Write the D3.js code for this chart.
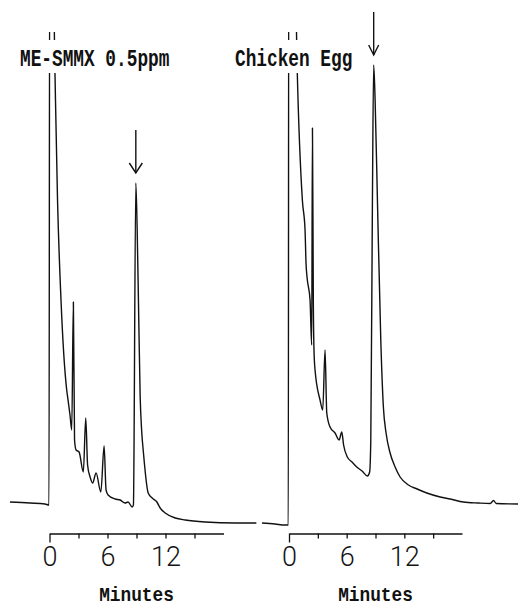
<!DOCTYPE html>
<html>
<head>
<meta charset="utf-8">
<script src="https://cdn.jsdelivr.net/npm/d3@7"></script>
<style>
  body { margin: 0; background: #fff; }
  svg { display: block; }
  .tick text { opacity: 0.99; }
</style>
</head>
<body>
<div id="chart"></div>
<script>
// retention time (min) and detector response
const standardTime = [-4.09, -2.02, -0.47, -0.05, 0.02, 0.30, 0.57, 0.83, 1.19, 1.78, 1.92, 2.12, 2.30, 2.47, 2.59, 2.75, 3.06, 3.50, 3.75, 3.94, 4.20, 4.46, 4.82, 5.31, 5.65, 5.85, 6.06, 6.79, 7.31, 7.82, 8.13, 8.55, 8.68, 8.93, 9.07, 9.20, 9.38, 9.53, 9.72, 10.21, 10.62, 11.11, 11.45, 11.97, 13.01, 14.04, 16.11, 19.22, 21.4]
const standardSignal = [5.6, 5.4, 5.2, 5.0, 120, 120, 91, 66, 46, 28, 26, 23, 20, 45.6, 18, 16, 15.6, 11.6, 22.4, 13, 10.6, 9.4, 11.4, 7.6, 16.8, 8, 7, 6.2, 6, 5.4, 5.6, 4.6, 5, 69.4, 60, 46, 26.6, 20, 15.4, 7.4, 6.4, 5.6, 4.4, 3.4, 2.4, 2.0, 1.6, 1.4, 1.4]
const eggTime = [-2.81, -1.46, -0.42, -0.07, -0.03, 0.55, 0.86, 1.39, 1.67, 1.77, 1.875, 2.19, 2.36, 2.44, 2.53, 2.60, 2.71, 3.23, 3.51, 3.75, 3.93, 4.27, 4.79, 5.21, 5.49, 5.68, 6.07, 6.56, 7.05, 7.60, 8.16, 8.39, 8.51, 8.68, 8.81, 8.96, 9.20, 9.55, 9.82, 10.10, 10.52, 11.04, 11.56, 12.43, 13.33, 14.34, 15.73, 16.77, 18.16, 19.69, 20.94, 21.28, 21.56, 23.85]
const eggSignal = [1.4, 1.2, 1.0, 1.0, 120, 120, 91.6, 66, 60, 53.4, 50.6, 46, 37, 80.4, 46, 36, 32, 26, 24, 36, 23.4, 20.6, 19.4, 18, 19.6, 17, 14.6, 13.6, 12.6, 11.8, 10.8, 11.6, 18, 66, 93, 86, 66, 38, 24.6, 19.4, 15.4, 12.6, 10.6, 9, 8.2, 7.4, 6.6, 6.2, 5.6, 5.4, 5.3, 5.9, 5.3, 5.2]

const panelTitles = ['ME-SMMX 0.5ppm', 'Chicken Egg']
const tickValues = [0, 3, 6, 9, 12, 15]
const tickLabels = [0, 6, 12]
const targetTime = [8.93, 8.81]   // SMMX peak, marked with an arrow
const axisLabel = 'Minutes'

let width = 518
let height = 608

let svg = d3.select('#chart').append('svg')
    .attr('width', width)
    .attr('height', height)

let y = d3.scaleLinear().domain([0, 100]).range([530, 30])
let axisY = 533.5
let monoFont = '"Liberation Mono", "DejaVu Sans Mono", monospace'

let panels = [
    { time: standardTime, signal: standardSignal, range: [49.5, 223.5], title: panelTitles[0], titleX: 20, arrowW: 13 },
    { time: eggTime, signal: eggSignal, range: [289, 462], title: panelTitles[1], titleX: 235, arrowW: 10 }
]

// pen goes off the chart above this line
svg.append('clipPath').attr('id', 'paper')
    .append('rect')
    .attr('x', 0).attr('y', 32)
    .attr('width', width).attr('height', height)

// monospace label stretched upward like the plotter lettering
function plotterText(x, base, str, stretch, anchor) {
    return svg.append('text')
        .attr('transform', 'translate(' + x + ',' + base + ') scale(1,' + stretch + ')')
        .attr('text-anchor', anchor)
        .attr('font-family', monoFont)
        .attr('font-weight', 'bold')
        .attr('font-size', 17.8)
        .attr('fill', '#111')
        .text(str)
}

panels.forEach(function (p, i) {
    let x = d3.scaleLinear().domain([0, 18]).range(p.range)
    let data = p.time.map(function (t, k) { return { t: t, v: p.signal[k] } })

    let line = d3.line()
        .x(function (d) { return x(d.t) })
        .y(function (d) { return y(d.v) })
        .curve(d3.curveMonotoneX)

    svg.append('path')
        .datum(data)
        .attr('clip-path', 'url(#paper)')
        .attr('fill', 'none')
        .attr('stroke', '#111')
        .attr('stroke-width', 1.4)
        .attr('stroke-linejoin', 'round')
        .attr('d', line)

    // title sits on a white patch over the solvent front
    let patch = svg.append('rect').attr('fill', '#fff')
    let title = plotterText(p.titleX, 65.5, p.title, 1.35, 'start')
    let bb = title.node().getBBox()
    patch.attr('x', p.titleX + bb.x - 2)
        .attr('y', 40)
        .attr('width', bb.width + 4)
        .attr('height', 33)

    // arrow over the target peak
    let top = d3.max(data.filter(function (d) { return Math.abs(d.t - targetTime[i]) < 0.3 }), function (d) { return d.v })
    let ax = x(targetTime[i])
    let tip = y(top) - 10
    let arrow = svg.append('g')
        .attr('fill', 'none')
        .attr('stroke', '#111')
        .attr('stroke-width', 1.4)
    arrow.append('line')
        .attr('x1', ax).attr('x2', ax)
        .attr('y1', tip - 43).attr('y2', tip)
    arrow.append('path')
        .attr('d', 'M' + (ax - p.arrowW / 2) + ',' + (tip - 10) + 'L' + ax + ',' + tip + 'L' + (ax + p.arrowW / 2) + ',' + (tip - 10))

    // time axis
    let axis = svg.append('g')
        .attr('transform', 'translate(0,' + axisY + ')')
        .call(d3.axisBottom(x)
            .tickValues(tickValues)
            .tickSize(5)
            .tickSizeOuter(0)
            .tickFormat(function (d) { return tickLabels.indexOf(d) >= 0 ? d : '' }))
    axis.select('.domain').attr('stroke', '#111').attr('stroke-width', 1.3)
    axis.selectAll('.tick line').attr('stroke', '#111').attr('stroke-width', 1.3)
        .attr('y2', function (d) { return d === 0 ? 9 : 5 })
    axis.selectAll('.tick text')
        .attr('y', 32)
        .attr('dy', null)
        .attr('fill', '#111')
        .attr('font-family', 'Roboto, "DejaVu Sans", sans-serif')
        .attr('font-weight', 300)
        .attr('font-size', 27)

    plotterText((p.range[0] + p.range[1]) / 2, 601, axisLabel, 1.15, 'middle')
})
</script>
</body>
</html>
